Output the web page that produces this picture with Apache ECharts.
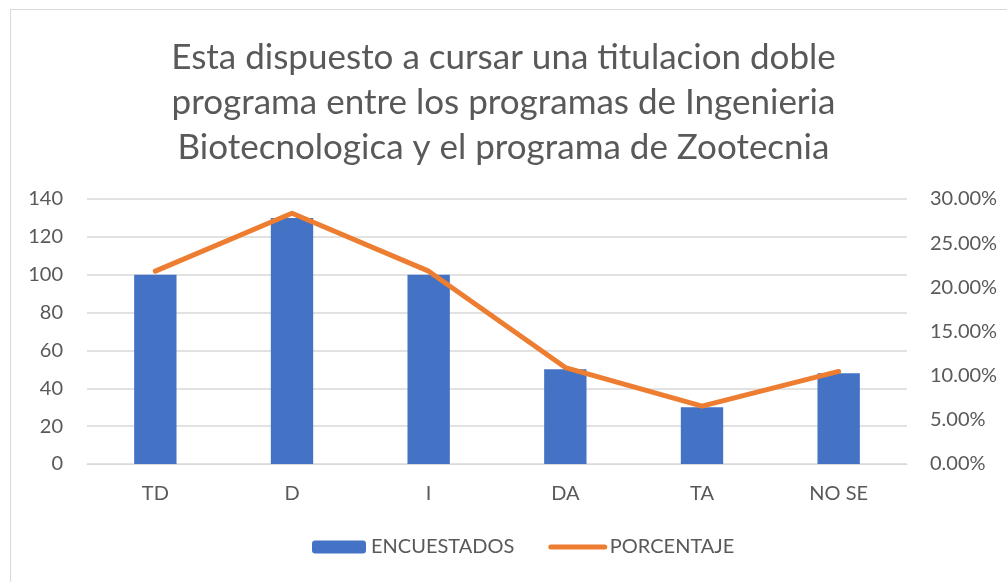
<!DOCTYPE html>
<html>
<head>
<meta charset="utf-8">
<script src="https://cdn.jsdelivr.net/npm/echarts@6/dist/echarts.min.js"></script>
<style>
  html, body { margin: 0; padding: 0; background: #fff; }
  #frame { position: absolute; left: 10px; top: 9px; width: 1010px; height: 590px; border: 1px solid #d9d9d9; box-sizing: border-box; }
  #chart { position: absolute; left: 0; top: 0; width: 1007px; height: 582px; }
</style>
</head>
<body>
<div id="frame"></div>
<div id="chart"></div>
<script>
const categories = ['TD', 'D', 'I', 'DA', 'TA', 'NO SE']
const encuestados = [100, 130, 100, 50, 30, 48]
const porcentaje = [21.83, 28.38, 21.83, 10.92, 6.55, 10.48]
const titleLines = [
  'Esta dispuesto a cursar una titulacion doble',
  'programa entre los programas de Ingenieria',
  'Biotecnologica y el programa de Zootecnia'
]

const textColor = '#595959'
const font = 'Lato, "Open Sans", sans-serif'

const chart = echarts.init(document.getElementById('chart'))
chart.setOption({
  animation: false,
  textStyle: { fontFamily: font },
  title: {
    text: titleLines.join('\n'),
    left: 'center',
    top: 30,
    textStyle: {
      fontFamily: font,
      fontWeight: 'normal',
      fontSize: 35,
      lineHeight: 45,
      color: textColor
    }
  },
  legend: {
    bottom: 20,
    left: 307,
    itemGap: 34,
    itemWidth: 54,
    itemHeight: 13,
    textStyle: { color: textColor, fontSize: 20, fontFamily: font },
    data: [
      { name: 'ENCUESTADOS' },
      {
        name: 'PORCENTAJE',
        itemStyle: { opacity: 0 },
        lineStyle: { width: 5, color: '#ED7D31', cap: 'round' }
      }
    ]
  },
  grid: {
    left: 87,
    right: 100,
    top: 199,
    bottom: 118
  },
  xAxis: {
    type: 'category',
    data: categories,
    axisLine: { lineStyle: { color: '#d9d9d9' } },
    axisTick: { show: false },
    axisLabel: { color: textColor, fontSize: 20, margin: 20 }
  },
  yAxis: [
    {
      type: 'value',
      min: 0,
      max: 140,
      interval: 20,
      axisLine: { show: false },
      axisTick: { show: false },
      axisLabel: { color: textColor, fontSize: 20, margin: 24 },
      splitLine: { lineStyle: { color: '#d9d9d9', width: 1.5 } }
    },
    {
      type: 'value',
      min: 0,
      max: 30,
      interval: 5,
      position: 'right',
      axisLine: { show: false },
      axisTick: { show: false },
      axisLabel: {
        color: textColor,
        fontSize: 20,
        margin: 23,
        formatter: (v) => v.toFixed(2) + '%'
      },
      splitLine: { show: false }
    }
  ],
  series: [
    {
      name: 'ENCUESTADOS',
      type: 'bar',
      data: encuestados,
      barWidth: '31%',
      itemStyle: { color: '#4472C4' }
    },
    {
      name: 'PORCENTAJE',
      type: 'line',
      yAxisIndex: 1,
      data: porcentaje,
      symbol: 'none',
      lineStyle: { color: '#ED7D31', width: 5, cap: 'round', join: 'round' },
      itemStyle: { color: '#ED7D31' }
    }
  ]
})
</script>
</body>
</html>
